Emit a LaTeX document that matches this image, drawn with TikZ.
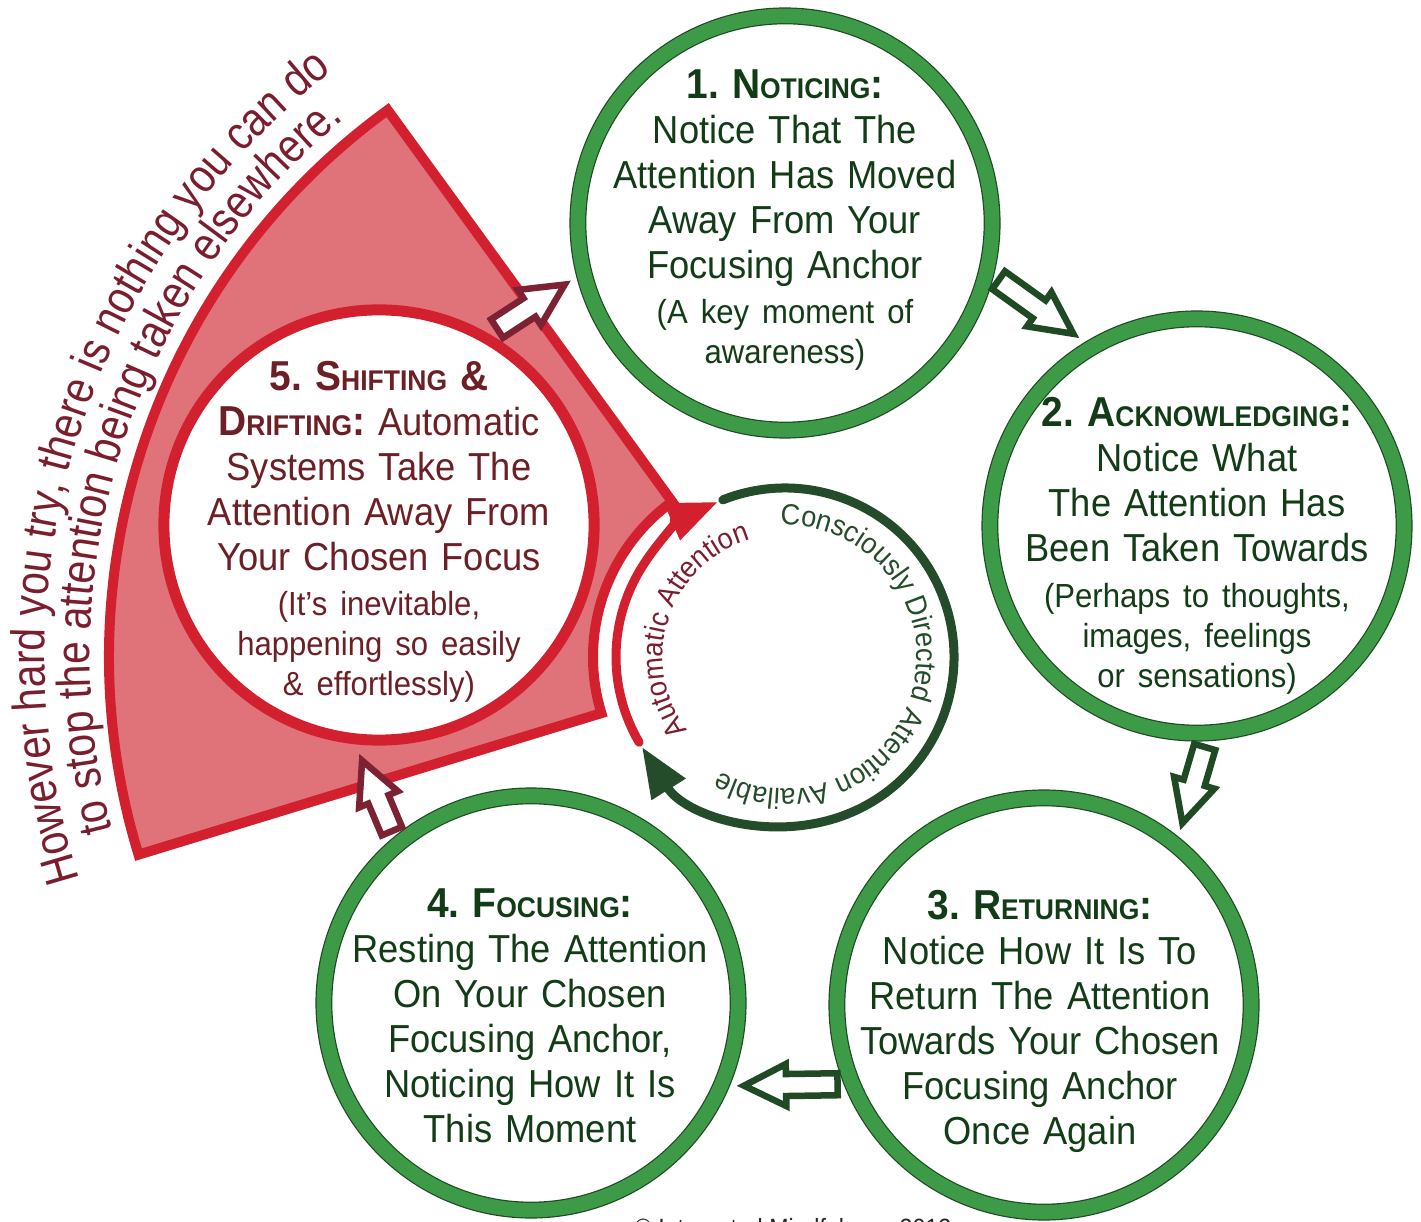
\documentclass[tikz,border=0pt]{standalone}
\usepackage{fontspec}
\setmainfont[FakeStretch=0.93]{Liberation Sans}
\newfontfamily\curvefont[FakeStretch=0.86]{Liberation Sans}
\usetikzlibrary{arrows.meta,calc,decorations.text}
\frenchspacing

\definecolor{stagegreen}{HTML}{3D9A47}
\definecolor{stageedge}{HTML}{1E4A22}
\definecolor{stageink}{HTML}{123C16}
\definecolor{driftred}{HTML}{D3202E}
\definecolor{driftfill}{HTML}{E07279}
\definecolor{driftink}{HTML}{6C1F24}
\definecolor{warnink}{HTML}{7A1E2D}
\definecolor{ringgreen}{HTML}{244C2A}
\definecolor{arrowgreen}{HTML}{1F4A24}
\definecolor{arrowred}{HTML}{7C2232}

\newcommand{\headfont}{\fontsize{11.9}{12.8}\selectfont\bfseries}
\newcommand{\smc}[1]{{\fontsize{8.1}{12.8}\selectfont #1}}
\newcommand{\bodyfont}{\fontsize{11.1}{12.8}\selectfont}
\newcommand{\parenfont}{\fontsize{9.5}{11.4}\selectfont}
\newcommand{\ringfont}{\fontsize{8.3}{10}\selectfont}
\newcommand{\warnfont}{\curvefont\fontsize{13.5}{14}\selectfont}

\tikzset{
  blockarrow/.style={line width=0.065cm, fill=white, line join=miter, miter limit=10,
    to path={let \p1=($(\tikztotarget)-(\tikztostart)$), \n1={atan2(\y1,\x1)},
      \p2=($(\tikztotarget)+({\n1+180}:8)$) in
      ($(\tikztostart)+({\n1+90}:11)$) -- ($(\p2)+({\n1+180}:42)+({\n1+90}:11)$)
      -- ($(\p2)+({\n1+180}:42)+({\n1+90}:21)$) -- (\p2)
      -- ($(\p2)+({\n1+180}:42)+({\n1-90}:21)$) -- ($(\p2)+({\n1+180}:42)+({\n1-90}:11)$)
      -- ($(\tikztostart)+({\n1-90}:11)$) -- cycle}},
}

\begin{document}
\begin{tikzpicture}[
  x=0.01cm, y=0.01cm,
  stage/.style={circle, draw=stageedge, line width=0.012cm, double=stagegreen, double distance=0.145cm, fill=white, minimum size=4.14cm, inner sep=0pt, outer sep=0.14cm},
  drift/.style={circle, draw=driftred, line width=0.11cm, fill=white, minimum size=4.3cm, inner sep=0pt, outer sep=0.14cm},
  stagetext/.style={text width=4.2cm, align=center, font=\bodyfont, text=stageink, inner sep=0pt},
  sector/.style={fill=driftfill, draw=driftred, line width=0.1cm, line join=miter},
  ringarc/.style={line width=0.09cm, line cap=round, -{Triangle[length=0.5cm, width=0.38cm]}},
  curved/.style={decorate, decoration={text along path, text align=left, #1}}
]
\useasboundingbox (0,0) rectangle (1421,-1222);
\coordinate (hub) at (785,-657);

% red wedge behind step 5
\draw[sector] ($(hub)+(126:676)$) arc[start angle=126, end angle=197, radius=676]
  -- ($(hub)+(197:192)$) arc[start angle=197, end angle=126, radius=192] -- cycle;
\path[curved={text color=warnink, text={|\warnfont|However hard you try, there is nothing you can do}}]
  ($(hub)+(197.5:740)$) arc[start angle=197.5, end angle=110, radius=740];
\path[curved={text color=warnink, text={|\warnfont|to stop the attention being taken elsewhere.}}]
  ($(hub)+(194.5:695)$) arc[start angle=194.5, end angle=115, radius=695];

% the five stages
\node[stage] (noticing) at (785,-223) {};
\node[stage] (acknowledging) at (1197,-526) {};
\node[stage] (returning) at (1044,-1005) {};
\node[stage] (focusing) at (531,-1003) {};
\node[drift] (shifting) at (379,-525) {};

\node[stagetext] (noticing-text) at (785,-220) {%
  {\headfont 1. N\smc{OTICING}:}\par
  Notice That The\\Attention Has Moved\\Away From Your\\Focusing Anchor\par
  \vspace{1.5pt}{\parenfont (A key moment of\\awareness)\par}};
\node[stagetext] (acknowledging-text) at (1197,-546) {%
  {\headfont 2. A\smc{CKNOWLEDGING}:}\par
  Notice What\\The Attention Has\\Been Taken Towards\par
  \vspace{1.5pt}{\parenfont (Perhaps to thoughts,\\images, feelings\\or sensations)\par}};
\node[stagetext] (returning-text) at (1040,-1021) {%
  {\headfont 3. R\smc{ETURNING}:}\par
  Notice How It Is To\\Return The Attention\\Towards Your Chosen\\Focusing Anchor\\Once Again};
\node[stagetext] (focusing-text) at (530,-1016) {%
  {\headfont 4. F\smc{OCUSING}:}\par
  Resting The Attention\\On Your Chosen\\Focusing Anchor,\\Noticing How It Is\\This Moment};
\node[stagetext, text=driftink] (shifting-text) at (379,-532) {%
  {\headfont 5. S\smc{HIFTING} \&\\D\smc{RIFTING}:} Automatic\\Systems Take The\\Attention Away From\\Your Chosen Focus\par
  \vspace{1.5pt}{\parenfont (It’s inevitable,\\happening so easily\\\& effortlessly)\par}};

% inner cycle
\draw[ringarc, ringgreen] ($(hub)+(111.6:169)$) arc[start angle=111.6, end angle=-147.8, radius=169];
\draw[ringarc, driftred] ($(hub)+(210.3:169)$) arc[start angle=210.3, end angle=113.4, radius=169];
\path[curved={text color=ringgreen, text={|\ringfont|Consciously Directed Attention Available}}]
  ($(hub)+(92:132)$) arc[start angle=92, end angle=-140, radius=132];
\path[curved={text color=warnink, text={|\ringfont|Automatic Attention}}]
  ($(hub)+(217:122)$) arc[start angle=217, end angle=95, radius=122];

% block arrows between stages
\draw[blockarrow, draw=arrowred] (shifting.59) to (noticing.195);
\draw[blockarrow, draw=arrowgreen] (noticing.-15) to (acknowledging.122);
\draw[blockarrow, draw=arrowgreen] (acknowledging.-88) to (returning.52);
\draw[blockarrow, draw=arrowgreen] (returning.201) to (focusing.-22);
\draw[blockarrow, draw=arrowred] (focusing.129) to (shifting.-95);

\node[anchor=base, font=\fontsize{7.1}{8}\selectfont, text=black!85] (credit) at (793,-1236) {© Integrated Mindfulness 2012};
\end{tikzpicture}
\end{document}
